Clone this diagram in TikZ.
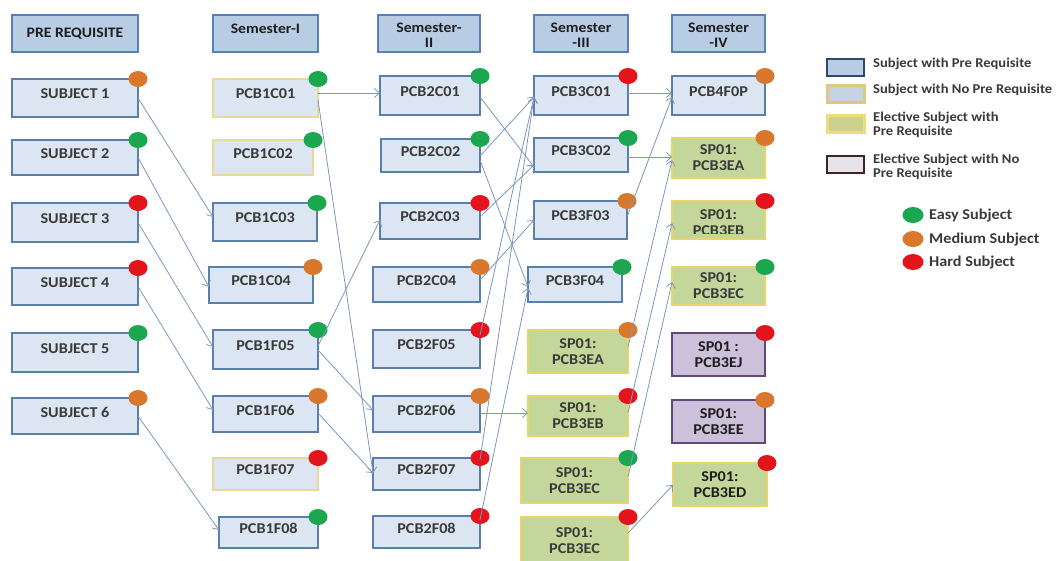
\documentclass[tikz,border=0pt]{standalone}
\usepackage{fontspec}
\setmainfont[FakeStretch=1.08]{Carlito}
\usetikzlibrary{arrows.meta,shapes.geometric}

\definecolor{hdrfill}{HTML}{B8CCE4}
\definecolor{hdrline}{HTML}{5580B8}
\definecolor{boxfill}{HTML}{DCE6F2}
\definecolor{preline}{HTML}{5A7FAA}
\definecolor{nopreline}{HTML}{EBD896}
\definecolor{elecfill}{HTML}{C4D79B}
\definecolor{elecline}{HTML}{E9D46C}
\definecolor{purpfill}{HTML}{CCC1DA}
\definecolor{purpline}{HTML}{5F497A}
\definecolor{txt}{HTML}{3A3A3A}
\definecolor{txtdark}{HTML}{1E1E1E}
\definecolor{conn}{HTML}{7C98BD}
\definecolor{easy}{HTML}{1BA650}
\definecolor{medium}{HTML}{D9782D}
\definecolor{hard}{HTML}{E3141B}
\definecolor{keyblue}{HTML}{2D4A6E}
\definecolor{keytanfill}{HTML}{C5D3E3}
\definecolor{keytan}{HTML}{DEC882}
\definecolor{keyolive}{HTML}{CDD08C}
\definecolor{keyyellow}{HTML}{ECDC7C}
\definecolor{keypink}{HTML}{E8E2EC}
\definecolor{keybrown}{HTML}{402424}

\tikzset{
  boxbase/.style={rectangle, inner sep=0pt, outer sep=0pt},
  hdr/.style={draw=hdrline, fill=hdrfill, line width=2.5pt},
  pre/.style={draw=preline, fill=boxfill, line width=1.6pt},
  nopre/.style={draw=nopreline, fill=boxfill, line width=1.8pt},
  elec/.style={draw=elecline, fill=elecfill, line width=2.6pt},
  elecno/.style={draw=purpline, fill=purpfill, line width=2.2pt},
  one/.style={font=\fontsize{15}{15}\selectfont\bfseries, text=txt, yshift=4pt, align=center, inner sep=0pt},
  two/.style={font=\fontsize{15}{16}\selectfont\bfseries, text=txt, align=center, inner sep=0pt},
  twodark/.style={two, text=txtdark},
  hdrtxt/.style={font=\fontsize{14.5}{15}\selectfont\bfseries, text=txtdark, align=center, inner sep=0pt},
  lvl/.style={ellipse, minimum width=19pt, minimum height=16pt, inner sep=0pt, outer sep=0pt},
  cn/.style={draw=conn, line width=0.8pt, -{Straight Barb[length=5pt,width=9pt]}},
  legtxt/.style={font=\fontsize{13.5}{14}\selectfont\bfseries, text=txt, anchor=west, align=left, inner sep=0pt},
  legdot/.style={font=\fontsize{15}{15}\selectfont\bfseries, text=txt, anchor=west, inner sep=0pt},
  keybox/.style={boxbase, minimum width=37pt, minimum height=17pt},
}

% box only: name, x1, y1, x2, y2, box style
\newcommand\plainbox[6]{%
  \node[boxbase,#6,minimum width={(#4-#2)*1pt},minimum height={(#5-#3)*1pt}] (#1) at ({(#2+#4)/2},{(#3+#5)/2}) {};}

% name, x1, y1, x2, y2, box style, level colour, text style, text
\newcommand\subjbox[9]{%
  \plainbox{#1}{#2}{#3}{#4}{#5}{#6}
  \node[#8] (#1-t) at (#1.center) {#9};
  \node[lvl,fill=#7] (#1-d) at (#1.north east) {};}

% header box: name, x1, y1, x2, y2, text y, text
\newcommand\hdrbox[7]{%
  \plainbox{#1}{#2}{#3}{#4}{#5}{hdr}
  \node[hdrtxt] (#1-t) at ({(#2+#4)/2},#6) {#7};}

\begin{document}
\begin{tikzpicture}[x=1pt,y=-1pt]
\useasboundingbox[fill=white] (0,0) rectangle (1056,560);

% column headers
\hdrbox{h0}{12}{15}{138}{52}{34}{PRE REQUISITE}
\hdrbox{h1}{213}{15}{318}{52}{29}{Semester-I}
\hdrbox{h2}{378}{15}{480}{52}{35.5}{Semester-\\II}
\hdrbox{h3}{534}{15}{628}{52}{35.5}{Semester\\-III}
\hdrbox{h4}{672}{15}{765}{52}{35.5}{Semester\\-IV}

% pre requisite subjects
\subjbox{s1}{12}{79}{138}{117}{pre}{medium}{one}{SUBJECT 1}
\subjbox{s2}{12}{140}{138}{175}{pre}{easy}{one}{SUBJECT 2}
\subjbox{s3}{12}{203}{138}{242}{pre}{hard}{one}{SUBJECT 3}
\subjbox{s4}{12}{268}{138}{305}{pre}{hard}{one}{SUBJECT 4}
\subjbox{s5}{12}{333}{138}{372}{pre}{easy}{one}{SUBJECT 5}
\subjbox{s6}{12}{398}{138}{434}{pre}{medium}{one}{SUBJECT 6}

% semester I
\subjbox{c1a}{213}{79}{318}{117}{nopre}{easy}{one}{PCB1C01}
\subjbox{c1b}{213}{140}{313}{175}{nopre}{easy}{one}{PCB1C02}
\subjbox{c1c}{213}{203}{317}{241}{pre}{easy}{one}{PCB1C03}
\subjbox{c1d}{209}{267}{313}{303}{pre}{medium}{one}{PCB1C04}
\subjbox{c1e}{213}{330}{318}{369}{pre}{easy}{one}{PCB1F05}
\subjbox{c1f}{213}{396}{318}{432}{pre}{medium}{one}{PCB1F06}
\subjbox{c1g}{213}{458}{318}{490}{nopre}{hard}{one}{PCB1F07}
\subjbox{c1h}{219}{517}{318}{548}{pre}{easy}{one}{PCB1F08}

% semester II
\subjbox{c2a}{380}{76}{480}{115}{pre}{easy}{one}{PCB2C01}
\subjbox{c2b}{381}{139}{480}{172}{pre}{easy}{one}{PCB2C02}
\subjbox{c2c}{380}{203}{480}{239}{pre}{hard}{one}{PCB2C03}
\subjbox{c2d}{373}{267}{480}{302}{pre}{medium}{one}{PCB2C04}
\subjbox{c2e}{373}{330}{480}{368}{pre}{hard}{one}{PCB2F05}
\subjbox{c2f}{373}{396}{480}{432}{pre}{medium}{one}{PCB2F06}
\subjbox{c2g}{373}{458}{480}{490}{pre}{hard}{one}{PCB2F07}
\subjbox{c2h}{373}{516}{480}{548}{pre}{hard}{one}{PCB2F08}

% semester III
\subjbox{c3a}{534}{76}{628}{115}{pre}{hard}{one}{PCB3C01}
\subjbox{c3b}{534}{138}{628}{172}{pre}{easy}{one}{PCB3C02}
\subjbox{c3c}{534}{201}{627}{239}{pre}{medium}{one}{PCB3F03}
\subjbox{c3d}{528}{267}{622}{302}{pre}{easy}{one}{PCB3F04}
\subjbox{c3e}{528}{330}{628}{373}{elec}{medium}{two}{SP01:\\PCB3EA}
\subjbox{c3f}{528}{396}{628}{436}{elec}{hard}{two}{SP01:\\PCB3EB}
\subjbox{c3g}{521}{458}{628}{503}{elec}{easy}{two}{SP01:\\PCB3EC}
\subjbox{c3h}{521}{517}{628}{564}{elec}{hard}{two}{SP01:\\PCB3EC}

% semester IV
\subjbox{c4a}{672}{76}{765}{115}{pre}{medium}{one}{PCB4F0P}
\subjbox{c4b}{672}{138}{765}{178}{elec}{medium}{two}{SP01:\\PCB3EA}
% this box's second text line is cut off by the box's lower edge
\plainbox{c4c}{672}{201}{765}{239}{elec}
\begin{scope}
  \clip (672,201) rectangle (765,233);
  \node[two] (c4c-t) at ([yshift=-3pt]c4c.center) {SP01:\\PCB3EB};
\end{scope}
\node[lvl,fill=hard] (c4c-d) at (c4c.north east) {};
\subjbox{c4d}{672}{267}{765}{305}{elec}{easy}{two}{SP01:\\PCB3EC}
\subjbox{c4e}{672}{333}{765}{376}{elecno}{hard}{twodark}{SP01 :\\PCB3EJ}
\subjbox{c4f}{672}{400}{765}{443}{elecno}{medium}{twodark}{SP01:\\PCB3EE}
\subjbox{c4g}{673}{463}{767}{506}{elec}{hard}{twodark}{SP01:\\PCB3ED}

% pre requisite -> semester I
\draw[cn] (s1.east) -- ([yshift=5pt]c1c.west);
\draw[cn] (s2.east) -- ([yshift=-2pt]c1d.west);
\draw[cn] (s3.east) -- ([yshift=2.5pt]c1e.west);
\draw[cn] (s4.east) -- ([yshift=4pt]c1f.west);
\draw[cn] (s6.east) -- ([yshift=2.5pt]c1h.west);

% semester I -> semester II
\draw[cn] ([yshift=5pt]c1a.east) -- ([yshift=2.5pt]c2a.west);
\draw[cn] ([yshift=-2pt]c1a.east) -- ([yshift=1pt]c2g.west);
\draw[cn] ([yshift=3.5pt]c1e.east) -- ([yshift=1pt]c2c.west);
\draw[cn] ([yshift=-0.5pt]c1e.east) -- ([yshift=4pt]c2f.west);
\draw[cn] ([yshift=1pt]c1f.east) -- ([yshift=1pt]c2g.west);

% semester II -> semester III
\draw[cn] ([yshift=-1.5pt]c2a.east) -- ([yshift=-12pt]c3b.west);
\draw[cn] ([yshift=-0.5pt]c2b.east) -- ([yshift=-1.5pt]c3a.west);
\draw[cn] ([yshift=-4.5pt]c2b.east) -- ([yshift=-2.5pt]c3d.west);
\draw[cn] ([yshift=4pt]c2c.east) -- ([yshift=-10pt]c3b.west);
\draw[cn] ([yshift=4.5pt]c2d.east) -- (c3c.west);
\draw[cn] ([yshift=14pt]c2e.east) -- ([yshift=-1.5pt]c3a.west);
\draw[cn] ([yshift=1pt]c2f.east) -- ([yshift=3pt]c3f.west);
\draw[cn] ([yshift=14pt]c2g.east) -- ([yshift=-1.5pt]c3a.west);
\draw[cn] ([yshift=12pt]c2h.east) -- ([yshift=-3.5pt]c3d.west);

% semester III -> semester IV
\draw[cn] ([yshift=2.5pt]c3a.east) -- ([yshift=2.5pt]c4a.west);
\draw[cn] ([yshift=-2pt]c3b.east) -- ([yshift=1pt]c4b.west);
\draw[cn] ([yshift=3pt]c3c.east) -- ([yshift=-1.5pt]c4a.west);
\draw[cn] ([yshift=4.5pt]c3e.east) -- ([yshift=-2pt]c4b.west);
\draw[cn] ([yshift=3pt]c3f.east) -- ([yshift=-3pt]c4c.west);
\draw[cn] ([yshift=3.5pt]c3g.east) -- ([yshift=4pt]c4d.west);
\draw[cn] ([yshift=7.5pt]c3h.east) -- ([yshift=-0.5pt]c4g.west);

% legend: box kinds
\node[keybox, fill=hdrfill, draw=keyblue, line width=2pt] (k1) at (845.5,67.5) {};
\node[legtxt] (k1-t) at (873,64) {Subject with Pre Requisite};
\node[keybox, fill=keytanfill, draw=keytan, line width=3pt] (k2) at (845.5,94) {};
\node[legtxt] (k2-t) at (873,90) {Subject with No Pre Requisite};
\node[keybox, fill=keyolive, draw=keyyellow, line width=3pt] (k3) at (845.5,124) {};
\node[legtxt] (k3-t) at (873,125) {Elective Subject with\\Pre Requisite};
\node[keybox, fill=keypink, draw=keybrown, line width=2pt] (k4) at (845.5,164.5) {};
\node[legtxt] (k4-t) at (873,167) {Elective Subject with No\\Pre Requisite};

% legend: difficulty levels
\node[lvl, fill=easy, minimum width=21pt, minimum height=16pt] (l1) at (913,215) {};
\node[legdot] (l1-t) at (929,215) {Easy Subject};
\node[lvl, fill=medium, minimum width=21pt, minimum height=16pt] (l2) at (913,239) {};
\node[legdot] (l2-t) at (929,239) {Medium Subject};
\node[lvl, fill=hard, minimum width=21pt, minimum height=16pt] (l3) at (913,262) {};
\node[legdot] (l3-t) at (929,262) {Hard Subject};
\end{tikzpicture}
\end{document}
